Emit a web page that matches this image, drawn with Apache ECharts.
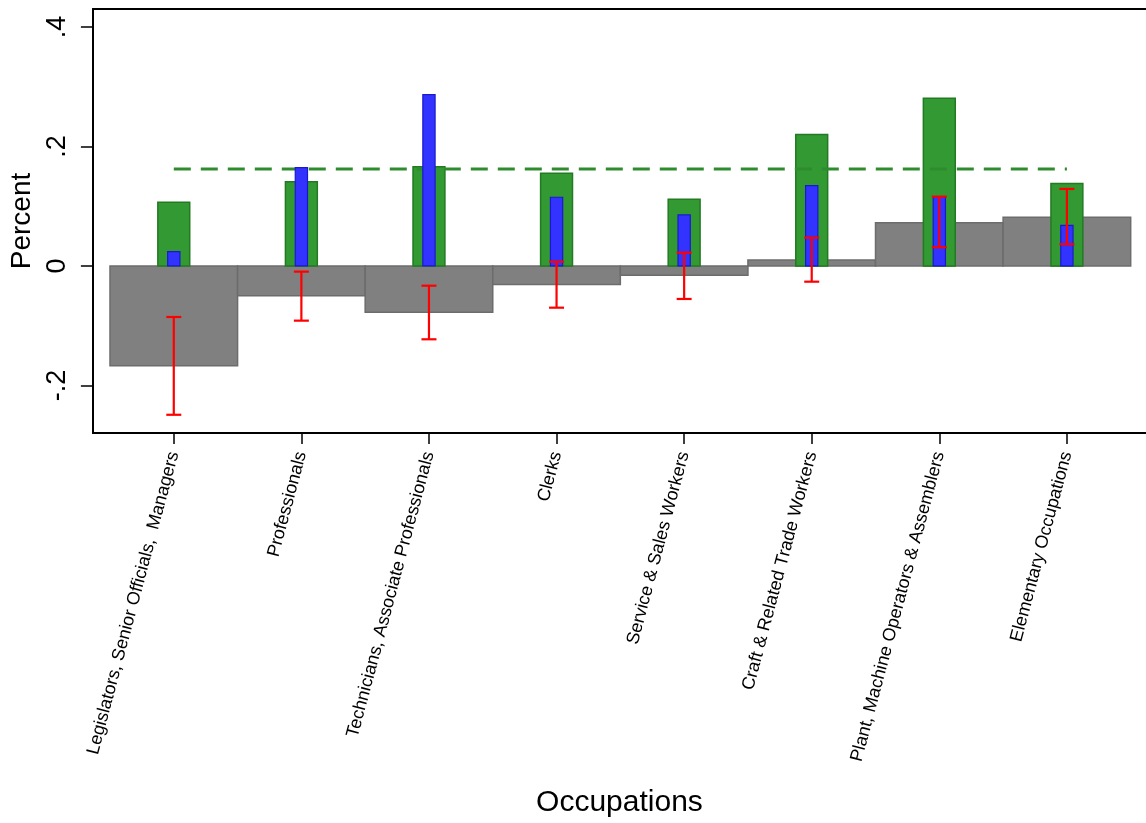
<!DOCTYPE html>
<html>
<head>
<meta charset="utf-8">
<script src="https://cdn.jsdelivr.net/npm/echarts@6/dist/echarts.min.js"></script>
<style>
html,body{margin:0;padding:0;background:#fff;overflow:hidden;}
#chart{width:1146px;height:823px;}
</style>
</head>
<body>
<div id="chart"></div>
<script>
var categories = [
  'Legislators, Senior Officials,  Managers',
  'Professionals',
  'Technicians, Associate Professionals',
  'Clerks',
  'Service & Sales Workers',
  'Craft & Related Trade Workers',
  'Plant, Machine Operators & Assemblers',
  'Elementary Occupations'
];
var grayValues  = [-0.167, -0.050, -0.0775, -0.031, -0.0156, 0.010, 0.0725, 0.0815];
var greenValues = [0.1066, 0.141, 0.166, 0.155, 0.1116, 0.2198, 0.2806, 0.1378];
var blueValues  = [0.024, 0.1646, 0.2867, 0.115, 0.0854, 0.1344, 0.116, 0.068];
var errLow  = [-0.249, -0.0915, -0.1227, -0.0698, -0.0552, -0.0263, 0.0313, 0.0363];
var errHigh = [-0.0854, -0.0095, -0.033, 0.0072, 0.0223, 0.0474, 0.116, 0.1289];
var meanLine = 0.1623;
var yTicks = [-0.2, 0, 0.2, 0.4];
var xTicks = [1, 2, 3, 4, 5, 6, 7, 8];

function rectSeries(values, halfW, fill, stroke, lw, z) {
  return {
    type: 'custom',
    z: z,
    data: values.map(function (v, i) { return [i + 1, v]; }),
    encode: { x: 0, y: 1 },
    renderItem: function (params, api) {
      var x = api.value(0), v = api.value(1);
      var p1 = api.coord([x - halfW, v]);
      var p2 = api.coord([x + halfW, 0]);
      return {
        type: 'rect',
        shape: { x: Math.min(p1[0], p2[0]), y: Math.min(p1[1], p2[1]),
                 width: Math.abs(p2[0] - p1[0]), height: Math.abs(p2[1] - p1[1]) },
        style: { fill: fill, stroke: stroke, lineWidth: lw }
      };
    }
  };
}

var chart = echarts.init(document.getElementById('chart'));
chart.setOption({
  animation: false,
  grid: { left: 92, right: 0, top: 9, bottom: 390 },
  xAxis: [{
    type: 'value', min: 0.366, max: 8.62,
    name: 'Occupations', nameLocation: 'middle', nameGap: 355,
    nameTextStyle: { fontSize: 30, color: '#000', fontFamily: 'Liberation Sans' },
    axisLine: { show: true, onZero: false, lineStyle: { color: '#000', width: 2 } },
    axisTick: { show: true, customValues: xTicks, length: 11, lineStyle: { color: '#000', width: 1.5 } },
    axisLabel: {
      customValues: xTicks, rotate: 75, margin: 19, fontSize: 18, color: '#000',
      fontFamily: 'Liberation Sans',
      formatter: function (v) { return categories[Math.round(v) - 1] || ''; }
    },
    splitLine: { show: false }
  }, {
    type: 'value', position: 'top', min: 0.366, max: 8.62,
    axisLine: { show: true, onZero: false, lineStyle: { color: '#000', width: 2 } },
    axisTick: { show: false }, axisLabel: { show: false }, splitLine: { show: false }
  }],
  yAxis: {
    type: 'value', min: -0.2795, max: 0.430,
    name: 'Percent', nameLocation: 'middle', nameGap: 56, nameRotate: 90,
    nameTextStyle: { fontSize: 28, color: '#000', fontFamily: 'Liberation Sans' },
    axisLine: { show: true, lineStyle: { color: '#000', width: 2 } },
    axisTick: { show: true, customValues: yTicks, length: 12, lineStyle: { color: '#000', width: 1.5 } },
    axisLabel: {
      customValues: yTicks, rotate: 90, margin: 22, fontSize: 27, color: '#000',
      fontFamily: 'Liberation Sans',
      formatter: function (v) {
        if (Math.abs(v) < 1e-9) return '0';
        return String(v).replace('0.', '.');
      }
    },
    splitLine: { show: false }
  },
  series: [
    rectSeries(grayValues, 0.5, '#808080', '#6c6c6c', 1.5, 1),
    rectSeries(greenValues, 0.125, '#339933', '#237a23', 1.5, 2),
    {
      type: 'line', z: 3, symbol: 'none',
      data: [[1, meanLine], [8, meanLine]],
      lineStyle: { color: '#2e8b2e', width: 3, type: [17, 10] }
    },
    rectSeries(blueValues, 0.048, '#3333ff', '#1a1acc', 1.2, 4),
    {
      type: 'custom', z: 5,
      data: errLow.map(function (lo, i) { return [i + 1, lo, errHigh[i]]; }),
      encode: { x: 0, y: [1, 2] },
      renderItem: function (params, api) {
        var x = api.value(0);
        var lo = api.coord([x, api.value(1)]);
        var hi = api.coord([x, api.value(2)]);
        var hw = 7.5;
        var st = { stroke: '#ff0000', lineWidth: 2.2 };
        return {
          type: 'group',
          children: [
            { type: 'line', shape: { x1: lo[0], y1: lo[1], x2: hi[0], y2: hi[1] }, style: st },
            { type: 'line', shape: { x1: lo[0] - hw, y1: lo[1], x2: lo[0] + hw, y2: lo[1] }, style: st },
            { type: 'line', shape: { x1: hi[0] - hw, y1: hi[1], x2: hi[0] + hw, y2: hi[1] }, style: st }
          ]
        };
      }
    }
  ]
});
</script>
</body>
</html>
